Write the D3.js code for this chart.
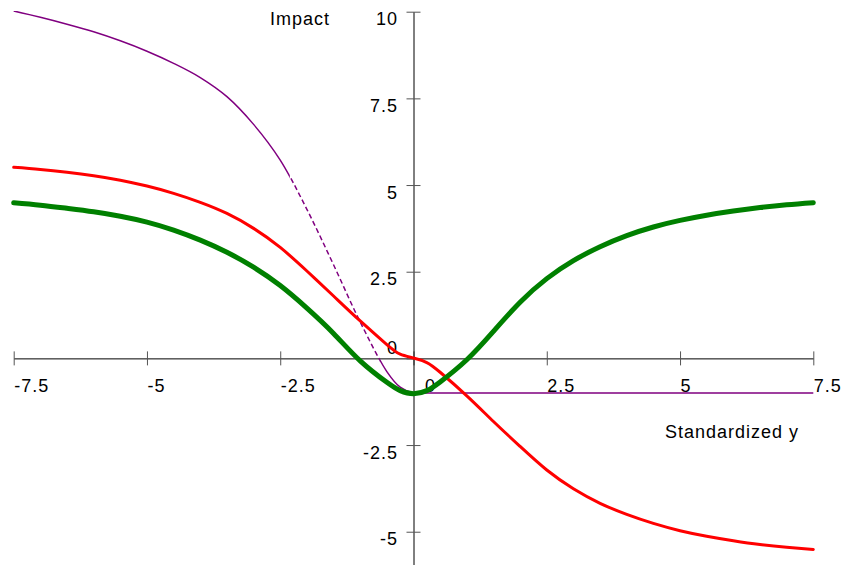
<!DOCTYPE html>
<html>
<head>
<meta charset="utf-8">
<script src="https://cdn.jsdelivr.net/npm/d3@7"></script>
<style>
  html, body { margin: 0; padding: 0; background: #fff; }
  svg { display: block; }
  text { font-family: "Liberation Sans", Arial, sans-serif; font-size: 18px; letter-spacing: 1px; fill: #000; }
</style>
</head>
<body>
<figure id="impact" style="margin:0"></figure>
<script>
// standardized y values shared by all curves
const xs = [-7.5, -7, -6.5, -6, -5.5, -5, -4.5, -4, -3.5, -3, -2.5, -2, -1.5, -1, -0.5, -0.25, 0,
  0.25, 0.5, 1, 1.5, 2, 2.5, 3, 3.5, 4, 4.5, 5, 5.5, 6, 6.5, 7, 7.5];

const greenImpact = [4.49, 4.42, 4.33, 4.23, 4.10, 3.93, 3.70, 3.41, 3.06, 2.63, 2.10, 1.45, 0.72, -0.07, -0.69, -0.93, -1.02,
  -0.93, -0.68, -0.04, 0.78, 1.62, 2.30, 2.82, 3.22, 3.54, 3.79, 3.98, 4.13, 4.25, 4.35, 4.43, 4.49];

const redImpact = [5.51, 5.45, 5.37, 5.27, 5.14, 4.97, 4.76, 4.50, 4.18, 3.75, 3.20, 2.52, 1.80, 1.08, 0.40, 0.12, 0.01,
  -0.12, -0.40, -1.08, -1.82, -2.54, -3.22, -3.76, -4.18, -4.50, -4.76, -4.97, -5.13, -5.26, -5.37, -5.45, -5.51];

const purpleImpact = [10.02, 9.84, 9.64, 9.42, 9.16, 8.86, 8.51, 8.10, 7.55, 6.75, 5.72, 4.30, 2.70, 1.05, -0.38, -0.83, -1.00,
  -1.00, -1.00, -1.00, -1.00, -1.00, -1.00, -1.00, -1.00, -1.00, -1.00, -1.00, -1.00, -1.00, -1.00, -1.00, -1.00];

// part of the purple curve drawn dashed
const purpleDash = [-2.32, -0.63];

const xTicks = [-7.5, -5, -2.5, 0, 2.5, 5, 7.5];
const yTicks = [-5, -2.5, 0, 2.5, 5, 7.5, 10];
const xLabel = "Standardized y";
const yLabel = "Impact";

const width = 842;
const height = 565;

const svg = d3.select("figure#impact")
  .append("svg")
  .attr("width", width)
  .attr("height", height);

const x = d3.scaleLinear()
  .domain([-7.5, 7.5])
  .range([13.7, 813.3]);

const y = d3.scaleLinear()
  .domain([-5.96, 10])
  .range([565, 11.7]);

// X axis through y = 0
const xAxis = svg.append("g")
  .attr("transform", `translate(0, ${y(0)})`)
  .call(d3.axisBottom(x).tickValues(xTicks).tickSize(7).tickSizeOuter(0).tickFormat(d => String(d)));

xAxis.select(".domain").attr("stroke", "#000");
xAxis.selectAll(".tick line").attr("y1", -7).attr("stroke", "#555");
xAxis.selectAll(".tick text")
  .attr("text-anchor", "start")
  .attr("y", 33.5)
  .attr("dy", null)
  .attr("x", d => d === 0 ? 11 : 0)
  .attr("font-size", null)
  .attr("font-family", null);

// Y axis through x = 0
const yAxis = svg.append("g")
  .attr("transform", `translate(${x(0)}, 0)`)
  .call(d3.axisLeft(y).tickValues(yTicks).tickSize(7).tickSizeOuter(0).tickFormat(d => String(d)));

yAxis.select(".domain").attr("stroke", "#000");
yAxis.selectAll(".tick line").attr("x1", 7).attr("stroke", "#555");
yAxis.selectAll(".tick text")
  .attr("x", -15.5)
  .attr("y", d => d === 0 ? -5 : 13)
  .attr("dy", null)
  .attr("font-size", null)
  .attr("font-family", null);

svg.append("text")
  .attr("x", 270)
  .attr("y", 25)
  .text(yLabel);

svg.append("text")
  .attr("x", 665)
  .attr("y", 438)
  .text(xLabel);

// clip paths for the purple curve
const defs = svg.append("defs");
defs.append("clipPath").attr("id", "clipTop")
  .append("rect")
  .attr("x", 0).attr("y", y(10) - 0.6)
  .attr("width", width).attr("height", height);
defs.append("clipPath").attr("id", "clipSolid")
  .selectAll("rect")
  .data([[0, x(purpleDash[0])], [x(purpleDash[1]), width]])
  .join("rect")
  .attr("x", d => d[0]).attr("y", 0)
  .attr("width", d => d[1] - d[0]).attr("height", height);
defs.append("clipPath").attr("id", "clipDash")
  .append("rect")
  .attr("x", x(purpleDash[0])).attr("y", 0)
  .attr("width", x(purpleDash[1]) - x(purpleDash[0])).attr("height", height);

const smooth = d3.line()
  .x(d => x(d[0]))
  .y(d => y(d[1]))
  .curve(d3.curveNatural);

const purpleLine = d3.line()
  .x(d => x(d[0]))
  .y(d => y(d[1]))
  .curve(d3.curveCatmullRom.alpha(0.5));

const purple = svg.append("g").attr("clip-path", "url(#clipTop)");
const purpleData = xs.map((v, i) => [v, purpleImpact[i]]);

purple.append("path")
  .attr("clip-path", "url(#clipSolid)")
  .attr("d", purpleLine(purpleData))
  .attr("fill", "none")
  .attr("stroke", "#800080")
  .attr("stroke-width", 1.5);

purple.append("path")
  .attr("clip-path", "url(#clipDash)")
  .attr("d", purpleLine(purpleData))
  .attr("fill", "none")
  .attr("stroke", "#800080")
  .attr("stroke-width", 1.5)
  .attr("stroke-dasharray", "5,3");

svg.append("path")
  .attr("d", smooth(xs.map((v, i) => [v, redImpact[i]])))
  .attr("fill", "none")
  .attr("stroke", "#ff0000")
  .attr("stroke-width", 3)
  .attr("stroke-linecap", "round");

svg.append("path")
  .attr("d", smooth(xs.map((v, i) => [v, greenImpact[i]])))
  .attr("fill", "none")
  .attr("stroke", "#008000")
  .attr("stroke-width", 5)
  .attr("stroke-linecap", "round");
</script>
</body>
</html>
